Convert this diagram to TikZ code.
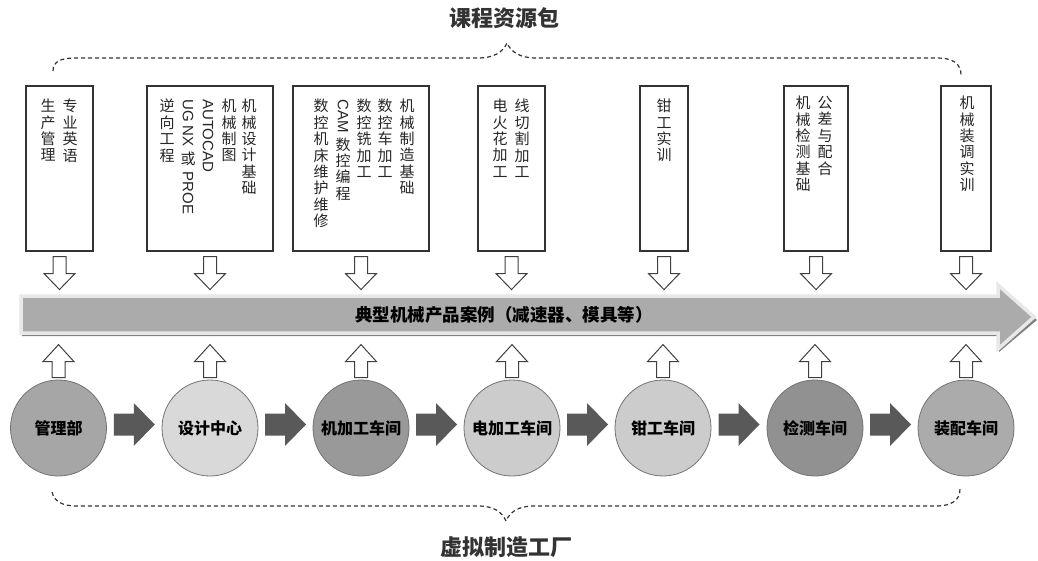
\documentclass[tikz,border=0pt]{standalone}
\usepackage{fontspec}
\usepackage{graphicx}
\usetikzlibrary{calc}
\setmainfont{Noto Sans CJK SC}
\newfontfamily\latf{Liberation Sans}
\newcommand{\lat}[1]{\raisebox{12pt}{\rotatebox{-90}{\latf #1}}}
\newcommand{\harrowdown}[1]{\draw[harrow] ($(#1.south)+(-6.5,5)$) -- ++(0,17) -- ++(-9,0) -- ++(15.5,16) -- ++(15.5,-16) -- ++(-9,0) -- ++(0,-17) -- cycle;}
\newcommand{\harrowup}[1]{\draw[harrow] ($(#1.north)+(-6.5,-2)$) -- ++(0,-16) -- ++(-9,0) -- ++(15.5,-17) -- ++(15.5,17) -- ++(-9,0) -- ++(0,16) -- cycle;}
\newcommand{\farrow}[2]{\fill[farr] ($(#1.east)!0.5!(#2.west)+(-20.5,-14.5)$) -- ++(20,0) -- ++(0,-10.5) -- ++(21,21.5) -- ++(-21,21.5) -- ++(0,-10.5) -- ++(-20,0) -- cycle;}
\begin{document}
\begin{tikzpicture}[x=1pt,y=-1pt,
  box/.style={draw=black!80, line width=1.1pt, inner sep=0, minimum width=#1, minimum height=165},
  colt/.style={anchor=north, inner sep=0, align=center, text=black!85, font=\fontsize{15}{16.4}\selectfont},
  harrow/.style={draw=black!75, line width=1pt, fill=white, line join=miter},
  farr/.style={fill=black!65},
  station/.style={circle, draw=black!55, line width=0.8pt, minimum size=96, inner sep=0, font=\bfseries\fontsize{16}{18}\selectfont},
  brace/.style={draw=black!80, line width=1.2pt, dash pattern=on 4pt off 3pt},
  ttl/.style={font=\bfseries\fontsize{22}{26}\selectfont, text=black!80, inner sep=0}]
\useasboundingbox (0,0) rectangle (1038,561);
\fill[white] (0,0) rectangle (1038,561);

% titles
\node[ttl] (top) at (504,18) {课程资源包};
\node[ttl] (bot) at (506,547) {虚拟制造工厂};

% braces
\draw[brace] (53,71) .. controls (53,62) and (60,58) .. (75,58) -- (478,58) .. controls (494,58) and (503,52) .. (507,43) .. controls (511,52) and (520,58) .. (536,58) -- (938,58) .. controls (953,58) and (961,64) .. (961,75);
\draw[brace] (52,492) .. controls (54,501) and (62,506) .. (76,506) -- (478,506) .. controls (494,506) and (502,512) .. (506,521) .. controls (510,512) and (518,506) .. (534,506) -- (936,506) .. controls (952,506) and (960,500) .. (960,489);

% boxes
\node[box=67] (b1) at (59.5,168.5) {};
\node[box=126] (b2) at (210,168.5) {};
\node[box=136] (b3) at (361,168.5) {};
\node[box=67] (b4) at (511.5,168.5) {};
\node[box=48] (b5) at (664,168.5) {};
\node[box=64] (b6) at (816,168.5) {};
\node[box=50] (b7) at (966,168.5) {};

% box texts
\node[colt] (t11) at (70,99) {专\\业\\英\\语};
\node[colt] (t12) at (48,99) {生\\产\\管\\理};
\node[colt] (t21) at (249,99) {机\\械\\设\\计\\基\\础};
\node[colt] (t22) at (229,99) {机\\械\\制\\图};
\node[colt] (t23) at (208,99) {\lat{AUTOCAD}};
\node[colt] (t24) at (188,99) {\lat{UG NX}\\[4pt]或\\[3pt]\lat{PROE}};
\node[colt] (t25) at (167,99) {逆\\向\\工\\程};
\node[colt] (t31) at (407,99) {机\\械\\制\\造\\基\\础};
\node[colt] (t32) at (385,99) {数\\控\\车\\加\\工};
\node[colt] (t33) at (364,99) {数\\控\\铣\\加\\工};
\node[colt] (t34) at (343,99) {\lat{CAM}\\[4pt]数\\控\\编\\程};
\node[colt] (t35) at (321,99) {数\\控\\机\\床\\维\\护\\维\\修};
\node[colt] (t41) at (522,99) {线\\切\\割\\加\\工};
\node[colt] (t42) at (500,99) {电\\火\\花\\加\\工};
\node[colt] (t51) at (664,99) {钳\\工\\实\\训};
\node[colt] (t61) at (825,96) {公\\差\\与\\配\\合};
\node[colt] (t62) at (803,96) {机\\械\\检\\测\\基\\础};
\node[colt] (t71) at (967,96) {机\\械\\装\\调\\实\\训};

% big arrow band
\fill[black!50] (22,299) -- (999,299) -- (999,288) -- (1037,320) -- (999,352) -- (999,336) -- (22,336) -- cycle;
\draw[draw=black!9, line width=3.5pt, fill=black!33] (21,296) -- (998,296) -- (998,285) -- (1034,317) -- (998,349) -- (998,333) -- (21,333) -- cycle;
\node[font=\bfseries\fontsize{17.5}{20}\selectfont, inner sep=0] (band) at (504,315) {典型机械产品案例（减速器、模具等）};

% stations
\node[station, fill=black!35] (c1) at (58.5,428) {管理部};
\node[station, fill=black!15] (c2) at (210,428) {设计中心};
\node[station, fill=black!40] (c3) at (361,428) {机加工车间};
\node[station, fill=black!20] (c4) at (512,428) {电加工车间};
\node[station, fill=black!20] (c5) at (663,428) {钳工车间};
\node[station, fill=black!43] (c6) at (815,428) {检测车间};
\node[station, fill=black!33] (c7) at (966,428) {装配车间};

% hollow arrows
\foreach \i in {1,...,7} {\harrowdown{b\i} \harrowup{c\i}}

% filled arrows
\farrow{c1}{c2}
\farrow{c2}{c3}
\farrow{c3}{c4}
\farrow{c4}{c5}
\farrow{c5}{c6}
\farrow{c6}{c7}
\end{tikzpicture}
\end{document}
